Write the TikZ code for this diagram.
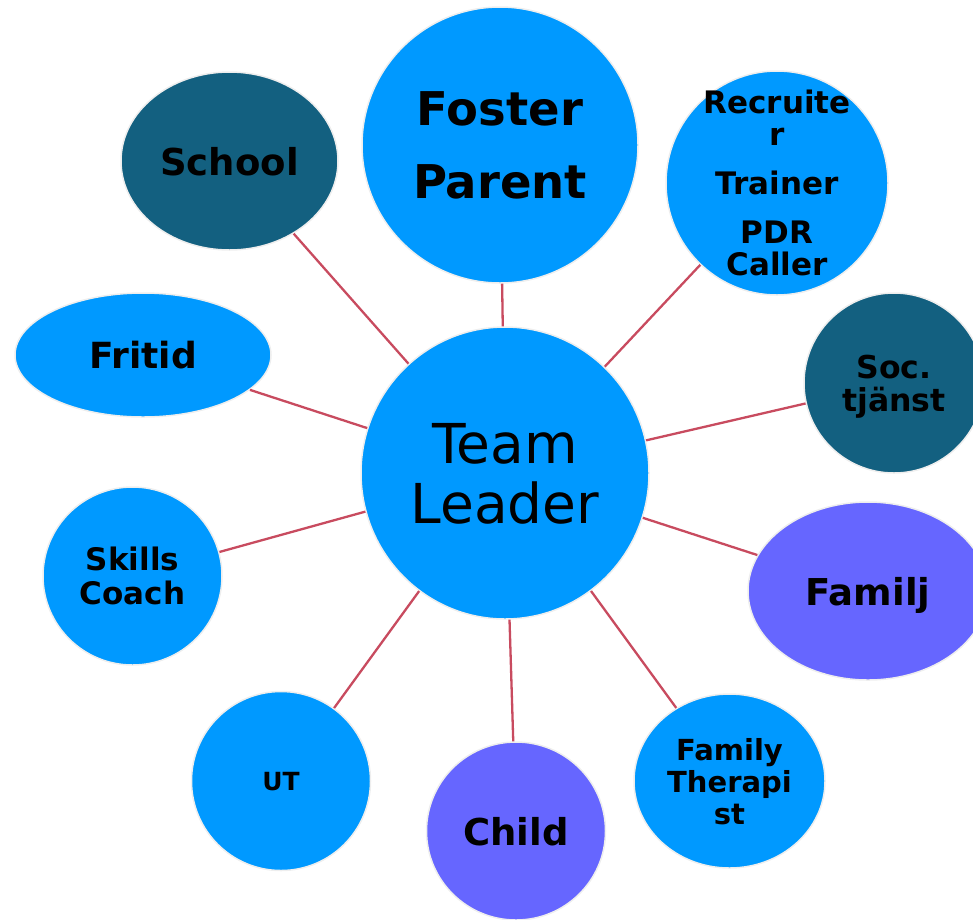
\documentclass[tikz,border=0pt]{standalone}
\usepackage{fontspec}
\setmainfont{DejaVu Sans}
\usetikzlibrary{shapes.geometric}
\definecolor{cblue}{HTML}{0099FF}
\definecolor{cteal}{HTML}{136080}
\definecolor{cpurple}{HTML}{6666FF}
\definecolor{cline}{RGB}{200,75,95}
\definecolor{cborder}{HTML}{EEEEEE}
\tikzset{
  bubble/.style={ellipse, draw=cborder, line width=1.5pt, inner sep=0pt, align=center, text depth=0pt, text=black},
  link/.style={draw=cline, line width=2.3pt},
}
\newcommand{\fs}[2]{\fontsize{#1}{#2}\selectfont}
\begin{document}
\begin{tikzpicture}[x=1pt,y=-1pt]
\useasboundingbox (0,0) rectangle (973,919);
\clip (0,0) rectangle (973,919);
% nodes
\node[bubble, fill=cblue, minimum width=288, minimum height=292, font=\fs{55}{60}] (tl) at (505,473) {Team\\Leader};
\node[bubble, fill=cblue, minimum width=276, minimum height=276, font=\fs{46.5}{73}\bfseries] (fp) at (500,145) {Foster\\Parent};
\node[bubble, fill=cteal, minimum width=217, minimum height=178, font=\fs{37}{40}\bfseries] (school) at (229.5,161) {School};
\node[bubble, fill=cblue, inner ysep=-60pt, minimum width=222, minimum height=224, font=\fs{31}{32}\bfseries] (rec) at (777,183) {Recruite\\r\\[17pt]Trainer\\[17pt]PDR\\Caller};
\node[bubble, fill=cteal, minimum width=180, minimum height=180, font=\fs{31.5}{33}\bfseries] (soc) at (894,383) {Soc.\\tjänst};
\node[bubble, fill=cpurple, minimum width=240, minimum height=178, font=\fs{37}{40}\bfseries] (familj) at (868,591) {Familj};
\node[bubble, fill=cblue, minimum width=191, minimum height=174, font=\fs{29}{32}\bfseries] (ft) at (729.5,781) {Family\\Therapi\\st};
\node[bubble, fill=cpurple, minimum width=179, minimum height=178, font=\fs{37}{40}\bfseries] (child) at (516,831) {Child};
\node[bubble, fill=cblue, minimum width=179, minimum height=179, font=\fs{25}{28}\bfseries] (ut) at (281,781) {UT};
\node[bubble, fill=cblue, minimum width=179, minimum height=178, font=\fs{31}{34}\bfseries] (skills) at (132.5,576) {Skills\\Coach};
\node[bubble, fill=cblue, minimum width=256, minimum height=124, font=\fs{36}{40}\bfseries] (fritid) at (143,355) {Fritid};
% connectors
\draw[link] (tl) -- (fp);
\draw[link] (tl) -- (school);
\draw[link] (tl) -- (rec);
\draw[link] (tl) -- (soc);
\draw[link] (tl) -- (familj);
\draw[link] (tl) -- (ft);
\draw[link] (tl) -- (child);
\draw[link] (tl) -- (ut);
\draw[link] (tl) -- (skills);
\draw[link] (tl) -- (fritid);
\end{tikzpicture}
\end{document}
